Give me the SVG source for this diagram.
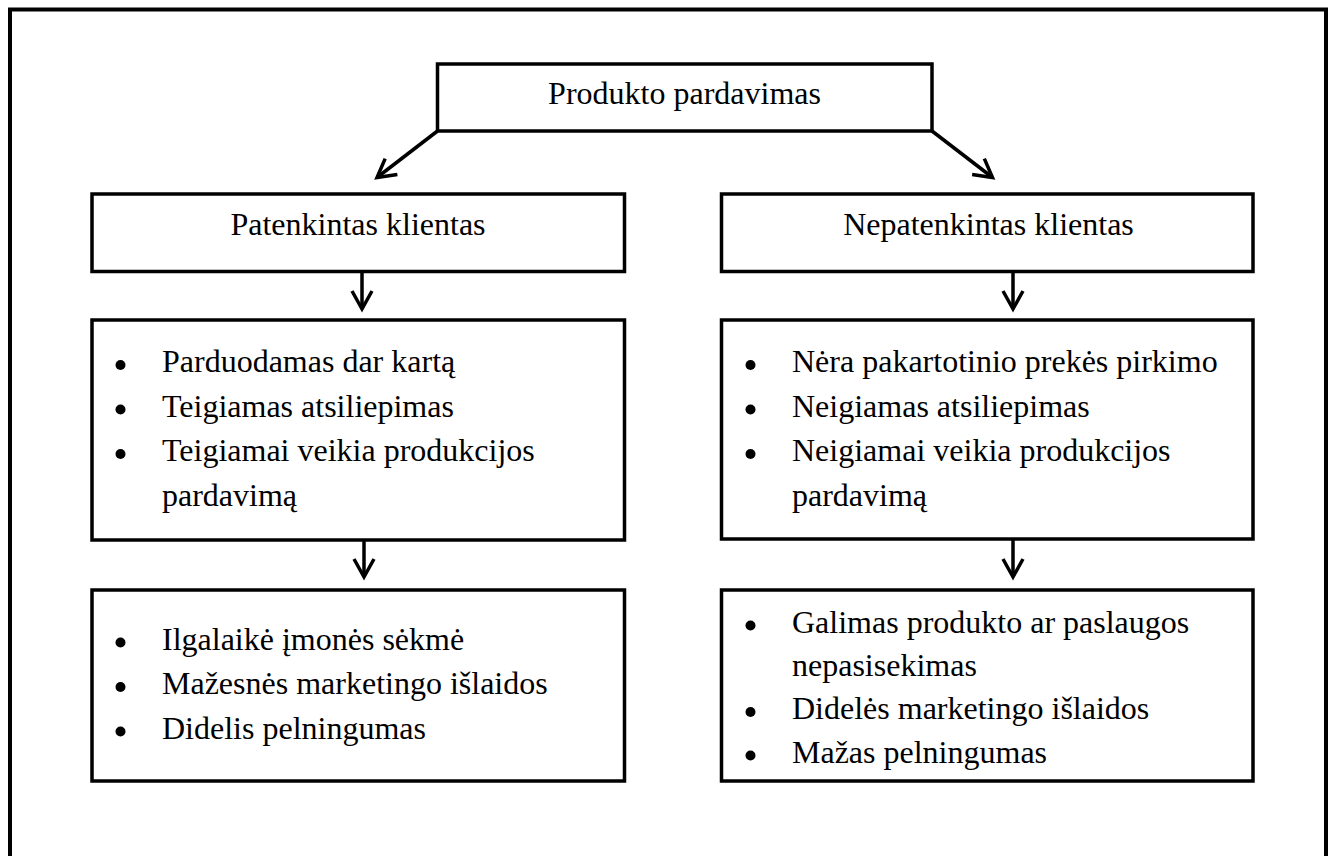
<svg xmlns="http://www.w3.org/2000/svg" width="1332" height="856" viewBox="0 0 1332 856">
<style>
.box{fill:#fff;stroke:#000;stroke-width:3.5}
.frame{fill:none;stroke:#000;stroke-width:4}
.t{font-family:"Liberation Serif","Times New Roman",serif;font-size:32px;fill:#000}
.c{text-anchor:middle}
.dot{fill:#000}
.conn{stroke:#000;stroke-width:3.5;fill:none}
</style>
<defs>
<marker id="arr" markerUnits="userSpaceOnUse" markerWidth="30" markerHeight="30" viewBox="-25 -15 30 30" refX="0" refY="0" orient="auto" overflow="visible">
<path d="M-18,-10 L0,0 L-18,10" fill="none" stroke="#000" stroke-width="3.5" stroke-linejoin="miter"/>
</marker>
</defs>
<rect width="1332" height="856" fill="#fff"/>
<rect class="frame" x="10" y="9.5" width="1316" height="900"/>
<g id="connectors">
<line class="conn" x1="437.5" y1="131" x2="377" y2="177.5" marker-end="url(#arr)"/>
<line class="conn" x1="932" y1="131" x2="992.5" y2="177.5" marker-end="url(#arr)"/>
<line class="conn" x1="362" y1="271.5" x2="362" y2="309" marker-end="url(#arr)"/>
<line class="conn" x1="1013" y1="271.5" x2="1013" y2="309" marker-end="url(#arr)"/>
<line class="conn" x1="364" y1="540" x2="364" y2="577" marker-end="url(#arr)"/>
<line class="conn" x1="1013" y1="539" x2="1013" y2="577" marker-end="url(#arr)"/>
</g>
<g id="node-top">
<rect class="box" x="437.5" y="64" width="494.5" height="67"/>
<text class="t c" x="684.5" y="104">Produkto pardavimas</text>
</g>
<g id="node-patenkintas">
<rect class="box" x="92" y="194" width="532.5" height="77.5"/>
<text class="t c" x="358" y="235">Patenkintas klientas</text>
</g>
<g id="node-nepatenkintas">
<rect class="box" x="721.5" y="194" width="531.5" height="77.5"/>
<text class="t c" x="988.5" y="235">Nepatenkintas klientas</text>
</g>
<g id="node-patenkintas-effects">
<rect class="box" x="92" y="320" width="532.5" height="220"/>
<circle class="dot" cx="120.5" cy="365" r="5"/>
<circle class="dot" cx="120.5" cy="409.5" r="5"/>
<circle class="dot" cx="120.5" cy="454" r="5"/>
<text class="t" x="162" y="372">Parduodamas dar kartą</text>
<text class="t" x="162" y="416.5">Teigiamas atsiliepimas</text>
<text class="t" x="162" y="461">Teigiamai veikia produkcijos</text>
<text class="t" x="162" y="505.5">pardavimą</text>
</g>
<g id="node-nepatenkintas-effects">
<rect class="box" x="721.5" y="320" width="531.5" height="219"/>
<circle class="dot" cx="750.5" cy="365" r="5"/>
<circle class="dot" cx="750.5" cy="409.5" r="5"/>
<circle class="dot" cx="750.5" cy="454" r="5"/>
<text class="t" x="792" y="372">Nėra pakartotinio prekės pirkimo</text>
<text class="t" x="792" y="416.5">Neigiamas atsiliepimas</text>
<text class="t" x="792" y="461">Neigiamai veikia produkcijos</text>
<text class="t" x="792" y="505.5">pardavimą</text>
</g>
<g id="node-patenkintas-results">
<rect class="box" x="92" y="590" width="532.5" height="191"/>
<circle class="dot" cx="120.5" cy="642.5" r="5"/>
<circle class="dot" cx="120.5" cy="687" r="5"/>
<circle class="dot" cx="120.5" cy="731.5" r="5"/>
<text class="t" x="162" y="649.5">Ilgalaikė įmonės sėkmė</text>
<text class="t" x="162" y="694">Mažesnės marketingo išlaidos</text>
<text class="t" x="162" y="738.5">Didelis pelningumas</text>
</g>
<g id="node-nepatenkintas-results">
<rect class="box" x="721.5" y="590" width="531.5" height="191"/>
<circle class="dot" cx="750.5" cy="625.5" r="5"/>
<circle class="dot" cx="750.5" cy="712" r="5"/>
<circle class="dot" cx="750.5" cy="755.5" r="5"/>
<text class="t" x="792" y="632.5">Galimas produkto ar paslaugos</text>
<text class="t" x="792" y="676">nepasisekimas</text>
<text class="t" x="792" y="719">Didelės marketingo išlaidos</text>
<text class="t" x="792" y="762.5">Mažas pelningumas</text>
</g>
</svg>
